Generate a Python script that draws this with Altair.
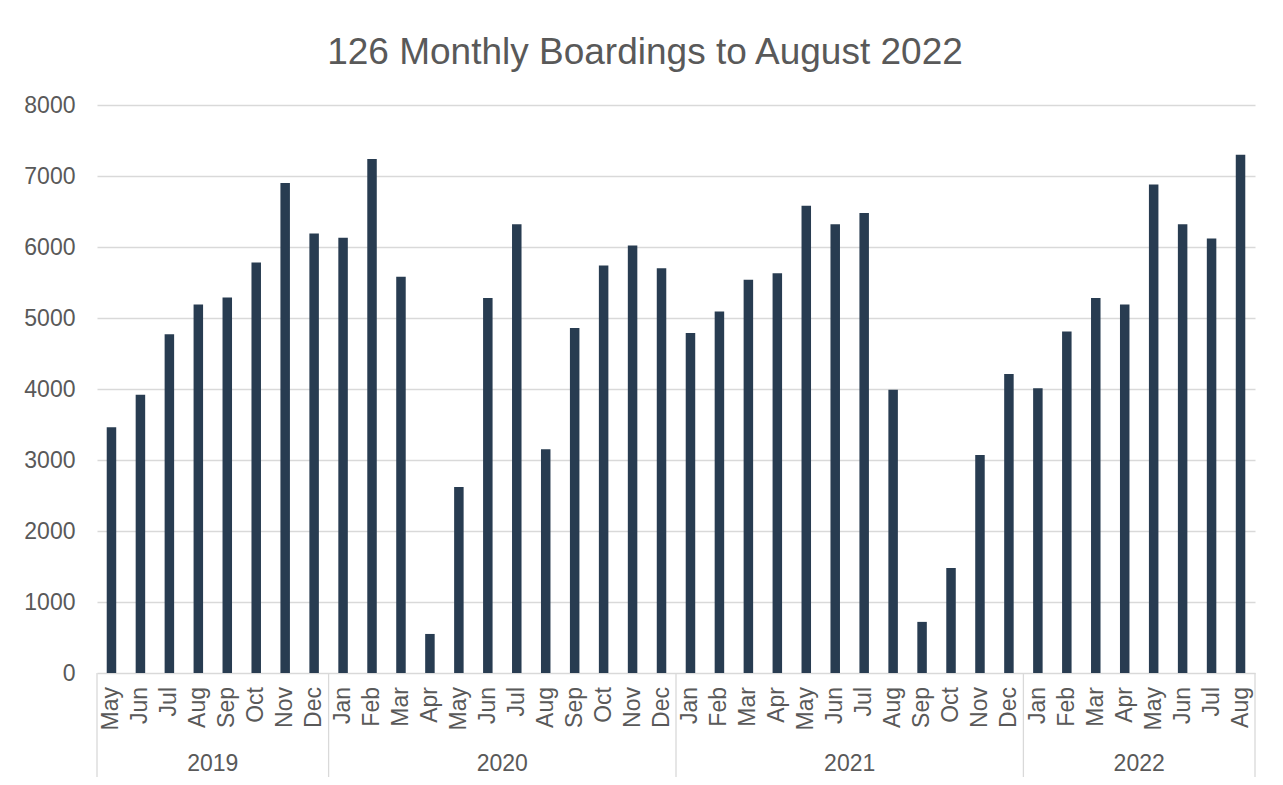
import altair as alt
import pandas as pd

# ---- data ----
years = (["2019"] * 8) + (["2020"] * 12) + (["2021"] * 12) + (["2022"] * 8)
months = [
    "May", "Jun", "Jul", "Aug", "Sep", "Oct", "Nov", "Dec",
    "Jan", "Feb", "Mar", "Apr", "May", "Jun", "Jul", "Aug", "Sep", "Oct", "Nov", "Dec",
    "Jan", "Feb", "Mar", "Apr", "May", "Jun", "Jul", "Aug", "Sep", "Oct", "Nov", "Dec",
    "Jan", "Feb", "Mar", "Apr", "May", "Jun", "Jul", "Aug",
]
boardings = [
    3460, 3920, 4770, 5190, 5290, 5780, 6900, 6190,
    6130, 7240, 5580, 550, 2620, 5280, 6320, 3150, 4860, 5740, 6020, 5700,
    4790, 5090, 5540, 5630, 6580, 6320, 6480, 3990, 720, 1480, 3070, 4210,
    4010, 4810, 5280, 5190, 6880, 6320, 6120, 7300,
]
y_ticks = [0, 1000, 2000, 3000, 4000, 5000, 6000, 7000, 8000]
title_text = "126 Monthly Boardings to August 2022"

df = pd.DataFrame({
    "idx": list(range(len(months))),
    "month": months,
    "year": years,
    "boardings": boardings,
})
starts = df.groupby("year")["idx"].min().tolist()
bounds = pd.DataFrame({"b": [s - 0.5 for s in starts] + [len(df) - 0.5]})

W, H = 1158, 568
FONT = "Liberation Sans"
TXT = "#595959"
GRID = "#d9d9d9"

x_scale = alt.Scale(domain=[-0.5, len(df) - 0.5], nice=False, zero=False, padding=0)

bars = alt.Chart(df).mark_bar(size=9.5, color="#283c51").encode(
    x=alt.X("idx:Q", scale=x_scale, axis=None),
    y=alt.Y(
        "boardings:Q",
        scale=alt.Scale(domain=[0, 8000], nice=False),
        axis=alt.Axis(
            values=y_ticks, format="d", title=None, domain=False, ticks=False,
            labelFontSize=23, labelColor=TXT, labelFont=FONT, labelPadding=22,
            gridColor=GRID, gridWidth=1.3,
        ),
    ),
)

month_text = alt.Chart(df).mark_text(
    angle=270, align="right", baseline="middle", fontSize=23, font=FONT, color=TXT
).encode(
    x=alt.X("idx:Q", scale=x_scale, axis=None),
    y=alt.value(H + 14),
    text="month:N",
)

year_text = alt.Chart(df).transform_aggregate(
    mid="mean(idx)", groupby=["year"]
).mark_text(
    align="center", baseline="middle", fontSize=23, font=FONT, color=TXT
).encode(
    x=alt.X("mid:Q", scale=x_scale, axis=None),
    y=alt.value(H + 91),
    text="year:N",
)

seps = alt.Chart(bounds).mark_rule(color=GRID, strokeWidth=1.3).encode(
    x=alt.X("b:Q", scale=x_scale, axis=None),
    y=alt.value(H),
    y2=alt.value(H + 105),
)

chart = alt.layer(seps, bars, month_text, year_text).properties(
    width=W,
    height=H,
    autosize="none",
    padding={"left": 89, "top": 97, "right": 12, "bottom": 104},
    title=alt.TitleParams(
        title_text, fontSize=37, font=FONT, fontWeight="normal", color=TXT,
        anchor="middle", frame="group", dx=-31, dy=47, offset=40, baseline="alphabetic",
    ),
).configure_view(stroke=None)

chart.save("out.html", embed_options={"renderer": "svg", "actions": False})
